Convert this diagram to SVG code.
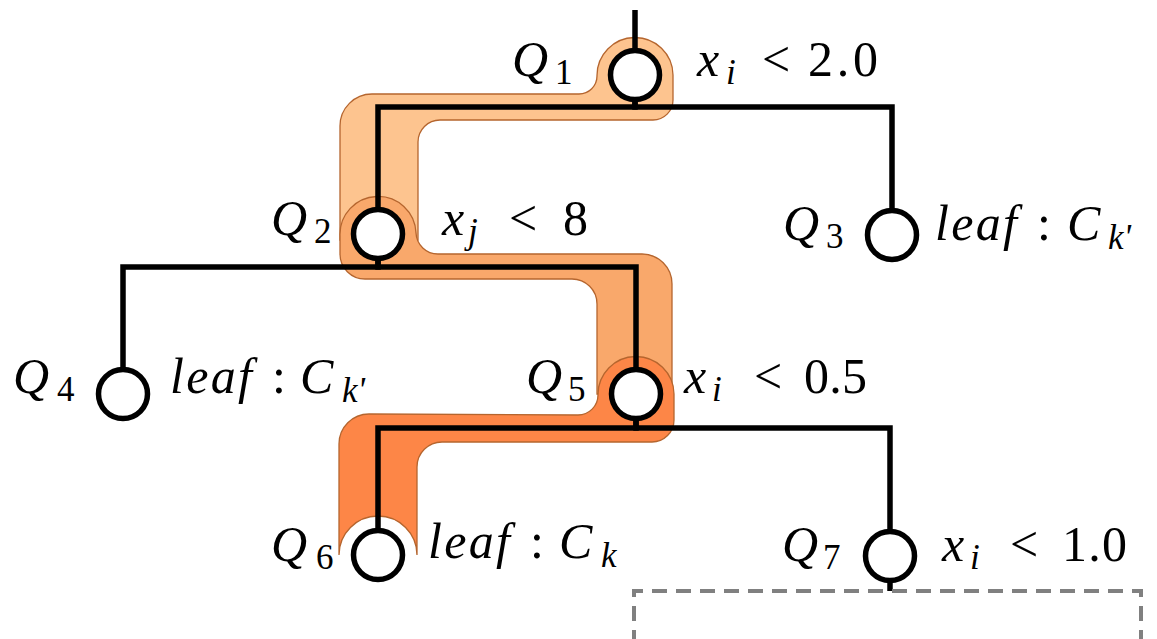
<svg xmlns="http://www.w3.org/2000/svg" width="1157" height="639" viewBox="0 0 1157 639">
<rect width="1157" height="639" fill="#fff"/>
<g id="highlight" stroke="#b5652e" stroke-width="1.3">
<path fill="#fdc48f" d="M597 76 A38 38 0 1 1 673 75 L673 100 A20 20 0 0 1 653 120 L440 120 A22 22 0 0 0 418 142 L418 240 L340 240 L340 126 A32 32 0 0 1 372 94 L579 94 A18 18 0 0 0 597 76 Z"/>
<path fill="#f9a86b" d="M416 233 A38 38 0 1 0 340 236 L340 254 A25 25 0 0 0 365 279 L572 279 A25 25 0 0 1 597 304 L597 394 L672 394 L672 284 A30 30 0 0 0 642 254 L438 254 A22 22 0 0 1 416 233 Z"/>
<path fill="#fd8647" d="M578 415 A20 20 0 0 0 598 395 A38 38 0 1 1 674 394 L674 420 A22 22 0 0 1 652 442 L442 442 A25 25 0 0 0 417 467 L417 555 A39 39 0 0 0 339 555 L339 444 A30 30 0 0 1 369 414 Z"/>
</g>
<g id="connectors" fill="none" stroke="#000" stroke-width="5.5" stroke-linejoin="miter">
<path d="M635 10 V51"/>
<path d="M635 99 V107 H378 V210"/>
<path d="M635 99 V107 H892 V211"/>
<path d="M378 258 V267 H123 V370"/>
<path d="M378 258 V267 H636 V370"/>
<path d="M636 418 V428 H378 V531"/>
<path d="M636 418 V428 H890 V532"/>
<path d="M890 580 V591"/>
<path d="M634 645 V591 H1141 V645" stroke="#808080" stroke-width="4" stroke-dasharray="15 9"/>
</g>
<g id="Q1">
<circle cx="635" cy="75" r="24.5" fill="#fff" stroke="#000" stroke-width="5.5"/>
<text font-family="serif" font-size="50" font-style="italic" x="512" y="76">Q</text>
<text font-family="serif" font-size="35" x="555" y="84">1</text>
<text font-family="serif" font-size="50" font-style="italic" x="697" y="76">x</text>
<text font-family="serif" font-size="35" font-style="italic" x="726" y="84">i</text>
<text font-family="serif" font-size="50" x="762" y="76">&lt;</text>
<text font-family="serif" font-size="50" x="808" y="76" textLength="70" lengthAdjust="spacing">2.0</text>
</g>
<g id="Q2">
<circle cx="378" cy="234" r="24.5" fill="#fff" stroke="#000" stroke-width="5.5"/>
<text font-family="serif" font-size="50" font-style="italic" x="271" y="235">Q</text>
<text font-family="serif" font-size="35" x="314" y="243">2</text>
<text font-family="serif" font-size="50" font-style="italic" x="442" y="235">x</text>
<text font-family="serif" font-size="35" font-style="italic" x="468" y="243">j</text>
<text font-family="serif" font-size="50" x="509" y="235">&lt;</text>
<text font-family="serif" font-size="50" x="563" y="235">8</text>
</g>
<g id="Q3">
<circle cx="892" cy="235" r="24.5" fill="#fff" stroke="#000" stroke-width="5.5"/>
<text font-family="serif" font-size="50" font-style="italic" x="783" y="240">Q</text>
<text font-family="serif" font-size="35" x="826" y="248">3</text>
<text font-family="serif" font-size="50" font-style="italic" x="935" y="240" textLength="82" lengthAdjust="spacing">leaf</text>
<text font-family="serif" font-size="50" x="1037" y="240">:</text>
<text font-family="serif" font-size="50" font-style="italic" x="1067" y="240">C</text>
<text font-family="serif" font-size="35" font-style="italic" x="1108" y="249">k'</text>
</g>
<g id="Q4">
<circle cx="123" cy="394" r="24.5" fill="#fff" stroke="#000" stroke-width="5.5"/>
<text font-family="serif" font-size="50" font-style="italic" x="13" y="393">Q</text>
<text font-family="serif" font-size="35" x="57" y="401">4</text>
<text font-family="serif" font-size="50" font-style="italic" x="170" y="393" textLength="82" lengthAdjust="spacing">leaf</text>
<text font-family="serif" font-size="50" x="272" y="393">:</text>
<text font-family="serif" font-size="50" font-style="italic" x="300" y="393">C</text>
<text font-family="serif" font-size="35" font-style="italic" x="342" y="402">k'</text>
</g>
<g id="Q5">
<circle cx="636" cy="394" r="24.5" fill="#fff" stroke="#000" stroke-width="5.5"/>
<text font-family="serif" font-size="50" font-style="italic" x="526" y="393">Q</text>
<text font-family="serif" font-size="35" x="568" y="401">5</text>
<text font-family="serif" font-size="50" font-style="italic" x="684" y="393">x</text>
<text font-family="serif" font-size="35" font-style="italic" x="712" y="401">i</text>
<text font-family="serif" font-size="50" x="754" y="393">&lt;</text>
<text font-family="serif" font-size="50" x="804" y="393" textLength="63" lengthAdjust="spacing">0.5</text>
</g>
<g id="Q6">
<circle cx="378" cy="555" r="24.5" fill="#fff" stroke="#000" stroke-width="5.5"/>
<text font-family="serif" font-size="50" font-style="italic" x="271" y="561">Q</text>
<text font-family="serif" font-size="35" x="316" y="569">6</text>
<text font-family="serif" font-size="50" font-style="italic" x="428" y="558" textLength="82" lengthAdjust="spacing">leaf</text>
<text font-family="serif" font-size="50" x="530" y="558">:</text>
<text font-family="serif" font-size="50" font-style="italic" x="559" y="558">C</text>
<text font-family="serif" font-size="35" font-style="italic" x="601" y="567">k</text>
</g>
<g id="Q7">
<circle cx="890" cy="556" r="24.5" fill="#fff" stroke="#000" stroke-width="5.5"/>
<text font-family="serif" font-size="50" font-style="italic" x="782" y="561">Q</text>
<text font-family="serif" font-size="35" x="823" y="569">7</text>
<text font-family="serif" font-size="50" font-style="italic" x="942" y="561">x</text>
<text font-family="serif" font-size="35" font-style="italic" x="970" y="569">i</text>
<text font-family="serif" font-size="50" x="1010" y="561">&lt;</text>
<text font-family="serif" font-size="50" x="1062" y="561" textLength="65" lengthAdjust="spacing">1.0</text>
</g>
</svg>
